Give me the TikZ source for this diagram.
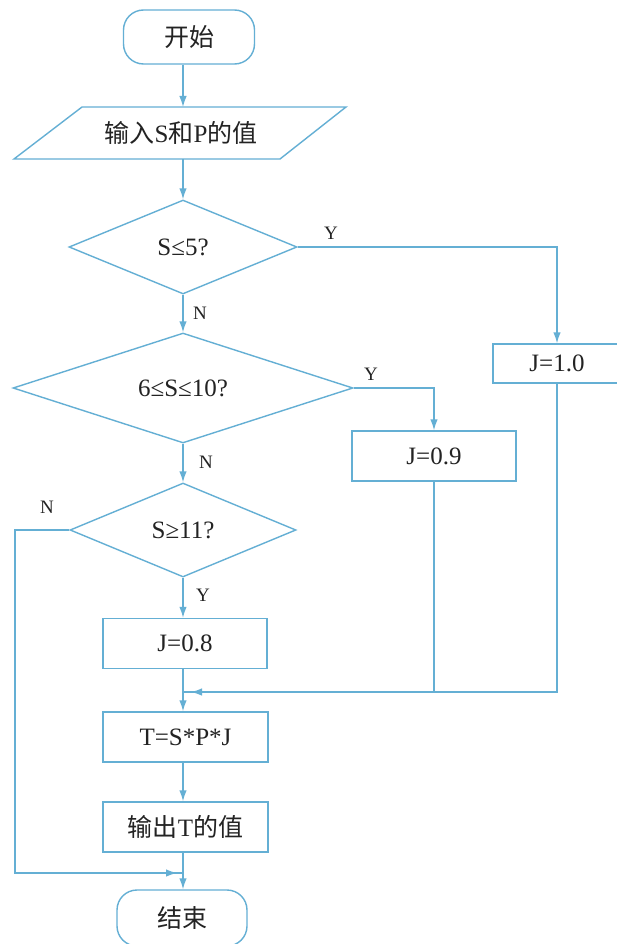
\documentclass[tikz,border=0pt]{standalone}
\usepackage{fontspec}
\setmainfont{Liberation Serif}
\newfontfamily\cjk{Noto Sans CJK SC}
\usetikzlibrary{shapes.geometric,arrows.meta}
\definecolor{flowline}{RGB}{100,175,212}
\definecolor{flowtext}{RGB}{35,35,35}
\tikzset{
  base/.style={draw=flowline, line width=1.4pt, text=flowtext, font=\fontsize{25}{28}\selectfont, inner sep=0pt},
  terminal/.style={base, rectangle, rounded corners=20pt, minimum width=131pt, minimum height=54pt},
  procbox/.style={base, rectangle, minimum height=50pt},
  decision/.style={base, diamond, aspect=2.5},
  lab/.style={text=flowtext, font=\fontsize{19}{20}\selectfont, inner sep=0pt},
  conn/.style={draw=flowline, line width=1.4pt},
  arr/.style={conn, -{Latex[length=11pt,width=7.5pt]}},
}
\begin{document}
\begin{tikzpicture}[x=1pt,y=-1pt]
\useasboundingbox (0,0) rectangle (617,944);
\fill[white] (0,0) rectangle (617,944);
\coordinate (spine) at (183,0);
% nodes
\node[terminal] (start) at (189,37) {\cjk 开始};
\draw[conn] (14,159) -- (82,107) -- (346,107) -- (280,159) -- cycle;
\node[text=flowtext, font=\fontsize{25}{28}\selectfont, inner sep=0pt] (input) at (181,133) {{\cjk 输入}S{\cjk 和}P{\cjk 的值}};
\coordinate (inTop) at (183,107);
\coordinate (inBot) at (183,159);
\node[decision, minimum width=228pt, minimum height=94pt] (d1) at (183,247) {S≤5?};
\node[decision, minimum width=340pt, minimum height=110pt] (d2) at (183,388) {6≤S≤10?};
\node[decision, minimum width=226pt, minimum height=94pt] (d3) at (183,530) {S≥11?};
\node[base, rectangle, minimum width=128pt, minimum height=39pt] (j10) at (557,363.5) {J=1.0};
\node[procbox, minimum width=164pt] (j09) at (434,456) {J=0.9};
\node[procbox, minimum width=164pt] (j08) at (185,643.5) {J=0.8};
\node[procbox, minimum width=165pt] (tb) at (185.5,737) {T=S*P*J};
\node[procbox, minimum width=165pt] (ob) at (185.5,827) {{\cjk 输出}T{\cjk 的值}};
\node[terminal, minimum width=130pt, minimum height=56pt] (end) at (182,918) {\cjk 结束};
% labels
\node[lab] (yl1) at (331,233) {Y};
\node[lab] (nl1) at (200,313) {N};
\node[lab] (yl2) at (371,374) {Y};
\node[lab] (nl2) at (206,462) {N};
\node[lab] (nl3) at (47,507) {N};
\node[lab] (yl3) at (203,595) {Y};
% helper coordinates
\coordinate (m1) at (183,692);
\coordinate (m1a) at (191,692);
\coordinate (lc) at (15,530);
\coordinate (m2) at (183,873);
\coordinate (m2a) at (177,873);
% connectors
\draw[arr] (start.south -| spine) -- (inTop);
\draw[arr] (inBot) -- (d1.north);
\draw[arr] (d1.south) -- (d2.north);
\draw[arr] (d1.east) -| (j10.north);
\draw[arr] (d2.east) -| (j09.north);
\draw[arr] (d2.south) -- (d3.north);
\draw[arr] (d3.south) -- (d3.south |- j08.north);
\draw[conn] (j09.south) |- (m1);
\draw[arr] (j10.south) |- (m1a);
\draw[arr] (j08.south -| spine) -- (tb.north -| spine);
\draw[arr] (tb.south -| spine) -- (ob.north -| spine);
\draw[conn] (d3.west) -- (lc) |- (m2);
\draw[arr] (lc) |- (m2a);
\draw[arr] (ob.south -| spine) -- (end.north -| spine);
\end{tikzpicture}
\end{document}
